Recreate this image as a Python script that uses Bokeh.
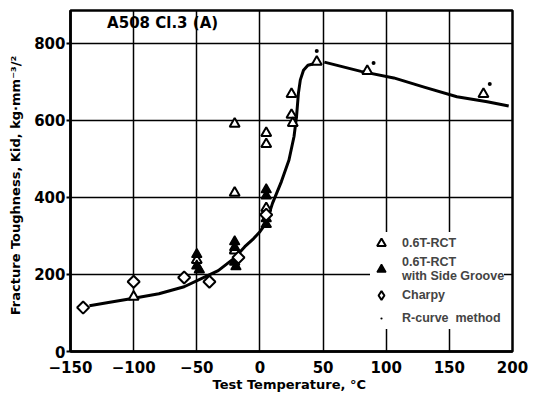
from bokeh.plotting import figure
from bokeh.models import Legend, LegendItem, Label, FixedTicker, Range1d
from bokeh.embed import file_html
from bokeh.resources import INLINE

# --- data ---
rct_T = [-100, -50, -20, -20, -20, 5, 5, 5, 25, 25, 26, 45, 85, 177]
rct_K = [142, 237, 262, 412, 591, 567, 538, 372, 668, 614, 593, 752, 728, 668]

sg_T = [-50, -50, -48, -20, -20, -20, -19, 5, 5, 5, 5]
sg_K = [252, 222, 212, 285, 270, 232, 220, 420, 404, 345, 330]

charpy_T = [-140, -100, -60, -40, -17, 5]
charpy_K = [114, 181, 192, 181, 244, 355]

rcurve_T = [45, 90, 182]
rcurve_K = [780, 749, 694]

curve1_T = [-135, -120, -100, -80, -60, -46, -33, -20, -12, -5, 0, 5, 10, 17, 23, 27, 29, 30.5, 32, 34.5, 38, 42]
curve1_K = [119, 127, 138, 150, 168, 190, 210, 243, 272, 293, 311, 334, 385, 441, 497, 558, 610, 671, 705, 730, 743, 746]
curve2_T = [51, 80, 106, 130, 156, 180, 197]
curve2_K = [751, 727, 710, 686, 661, 648, 637]

x_ticks = [-150, -100, -50, 0, 50, 100, 150, 200]
y_ticks = [0, 200, 400, 600, 800]

FONT = "DejaVu Sans"
LFONT = "Liberation Sans"

p = figure(width=533, height=394, output_backend="svg", toolbar_location=None,
           x_range=Range1d(-150, 200), y_range=Range1d(0, 885),
           min_border_left=70, min_border_right=21, min_border_top=10,
           min_border_bottom=42)

p.outline_line_color = "black"
p.outline_line_width = 2.5
p.background_fill_color = "white"
p.border_fill_color = "white"

for ax in (p.xaxis[0], p.yaxis[0]):
    ax.axis_line_width = 2.5
    ax.axis_line_color = "black"
    ax.major_label_text_font = FONT
    ax.major_label_text_font_style = "bold"
    ax.major_label_text_font_size = "15px"
    ax.major_label_text_color = "black"
    ax.minor_tick_line_color = None
    ax.axis_label_text_font = FONT
    ax.axis_label_text_font_style = "bold"
    ax.axis_label_text_font_size = "13px"
    ax.axis_label_text_color = "black"

p.xaxis.ticker = FixedTicker(ticks=x_ticks)
p.yaxis.ticker = FixedTicker(ticks=y_ticks)
p.xaxis.major_tick_line_color = None
p.xaxis.major_label_standoff = 3
p.yaxis.major_tick_in = 0
p.yaxis.major_tick_out = 4
p.yaxis.major_tick_line_width = 2
p.yaxis.major_label_standoff = 1
p.xaxis.axis_label = "Test  Temperature, °C"
p.xaxis.axis_label_standoff = 1
p.yaxis.axis_label = "Fracture   Toughness, Kid, kg·mm⁻³/²"
p.yaxis.axis_label_standoff = 8

p.xgrid.ticker = FixedTicker(ticks=x_ticks[1:-1])
p.ygrid.ticker = FixedTicker(ticks=y_ticks[1:])
p.grid.grid_line_color = "black"
p.grid.grid_line_width = 1.5

c1 = p.line(curve1_T, curve1_K, line_color="black", line_width=3, line_join="round")
c2 = p.line(curve2_T, curve2_K, line_color="black", line_width=3, line_join="round")

r_rct = p.scatter(rct_T, rct_K, marker="triangle", size=10,
                  fill_color="white", line_color="black", line_width=2)
r_sg = p.scatter(sg_T, sg_K, marker="triangle", size=10,
                 fill_color="black", line_color="black", line_width=1.5)
r_ch = p.scatter(charpy_T, charpy_K, marker="square", size=8.5, angle=0.785398,
                 fill_color="white", line_color="black", line_width=2)
# legend-only swatch for the Charpy diamond (a single off-canvas NaN point)
r_ch_leg = p.scatter([float("nan")], [float("nan")], marker="diamond", size=14,
                     fill_color="white", line_color="black", line_width=2)
r_rc = p.scatter(rcurve_T, rcurve_K, marker="dot", size=16,
                 fill_color="black", line_color="black", line_width=1.5)

legend = Legend(items=[
    LegendItem(label="0.6T-RCT", renderers=[r_rct]),
    LegendItem(label="0.6T-RCT\nwith Side Groove", renderers=[r_sg]),
    LegendItem(label="Charpy", renderers=[r_ch_leg]),
    LegendItem(label="R-curve  method", renderers=[r_rc]),
], location=(300, 22))
legend.label_text_font = LFONT
legend.label_text_font_style = "bold"
legend.label_text_font_size = "12.5px"
legend.label_text_line_height = 0.95
legend.border_line_color = None
legend.background_fill_color = "white"
legend.background_fill_alpha = 1.0
legend.glyph_width = 22
legend.glyph_height = 22
legend.label_standoff = 10
legend.spacing = 1
legend.padding = 3
legend.label_height = 14
p.add_layout(legend)

title = Label(x=-121, y=875, text="A508 Cl.3 (A)", text_font=FONT,
              text_font_style="bold", text_font_size="15px", text_baseline="top",
              text_color="black")
p.add_layout(title)

open("out.html", "w").write(file_html(p, INLINE))
